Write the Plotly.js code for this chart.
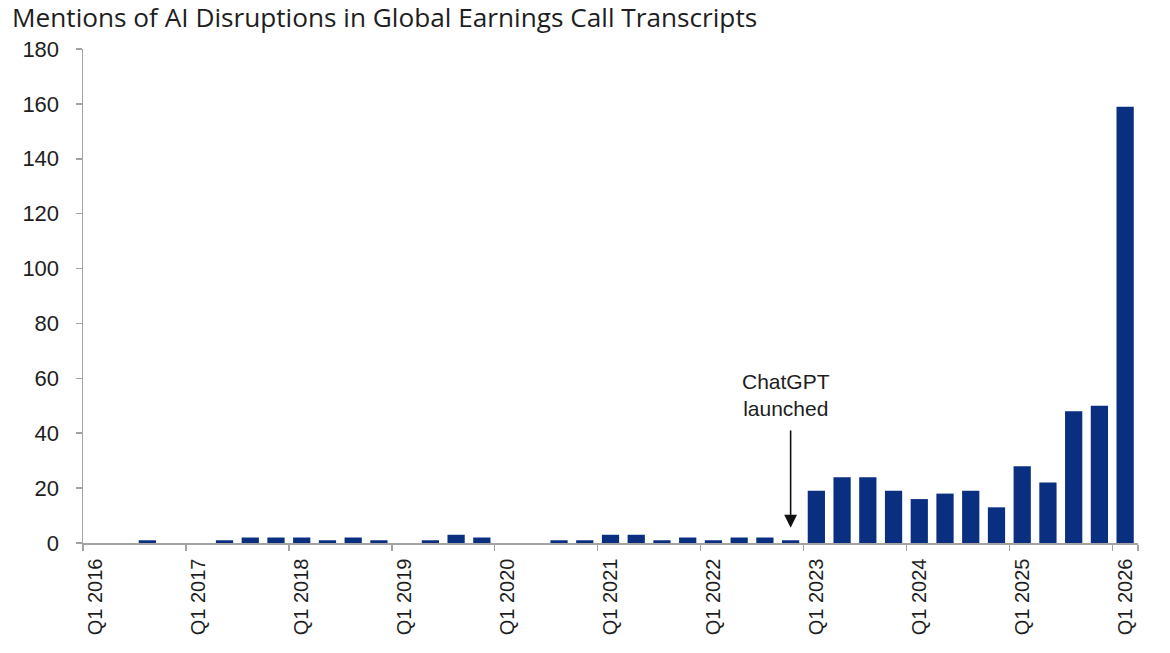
<!DOCTYPE html>
<html>
<head>
<meta charset="utf-8">
<script src="https://cdn.plot.ly/plotly-3.0.1.min.js"></script>
<style>
  html, body { margin: 0; padding: 0; background: #fff; }
  #chart { width: 1170px; height: 653px; }
</style>
</head>
<body>
<div id="chart"></div>
<script>
// Quarterly categories, Q1 2016 through Q1 2026
const years = [2016, 2017, 2018, 2019, 2020, 2021, 2022, 2023, 2024, 2025, 2026];
const quarters = [];
years.forEach(y => {
  for (let q = 1; q <= 4; q++) {
    if (y === 2026 && q > 1) break;
    quarters.push('Q' + q + ' ' + y);
  }
});

// Count of AI-disruption mentions per quarter
const mentions = [
  0, 0, 1, 0,     // 2016
  0, 1, 2, 2,     // 2017
  2, 1, 2, 1,     // 2018
  0, 1, 3, 2,     // 2019
  0, 0, 1, 1,     // 2020
  3, 3, 1, 2,     // 2021
  1, 2, 2, 1,     // 2022
  19, 24, 24, 19, // 2023
  16, 18, 19, 13, // 2024
  28, 22, 48, 50, // 2025
  159             // 2026
];

// Axis labels shown on the first quarter of each year
const tickLabels = years.map(y => 'Q1 ' + y);
const yTicks = [0, 20, 40, 60, 80, 100, 120, 140, 160, 180];

const launchQuarter = 'Q4 2022';
const launchText = 'ChatGPT<br>launched';

const barColor = '#0a2e80';
const axisGrey = '#a3a3a3';
const labelFont = 'Liberation Sans, Arial, Helvetica, sans-serif';

const trace = {
  type: 'bar',
  x: quarters,
  y: mentions,
  marker: { color: barColor, line: { width: 0 } },
  hoverinfo: 'x+y'
};

const layout = {
  width: 1170,
  height: 653,
  paper_bgcolor: '#ffffff',
  plot_bgcolor: '#ffffff',
  margin: { l: 83, r: 32, t: 49, b: 110 },
  bargap: 0.33,
  showlegend: false,
  title: {
    text: 'Mentions of AI Disruptions in Global Earnings Call Transcripts',
    x: 12 / 1170, xref: 'container', xanchor: 'left',
    y: 1 - 18 / 653, yref: 'container', yanchor: 'middle',
    font: { family: 'Open Sans, sans-serif', size: 26.2, color: '#1e1e1e' }
  },
  xaxis: {
    type: 'category',
    categoryorder: 'array',
    categoryarray: quarters,
    range: [-0.5, quarters.length - 0.5],
    tickvals: tickLabels,
    ticktext: tickLabels,
    tickangle: -90,
    tickson: 'boundaries',
    ticks: 'outside',
    ticklen: 6,
    tickwidth: 1.5,
    tickcolor: axisGrey,
    showline: true,
    linecolor: axisGrey,
    linewidth: 1.5,
    showgrid: false,
    zeroline: false,
    ticklabelstandoff: 6,
    tickfont: { family: labelFont, size: 20, color: '#1e1e1e' },
    fixedrange: true
  },
  yaxis: {
    range: [0, 180],
    tickvals: yTicks,
    ticks: 'outside',
    ticklen: 6,
    tickwidth: 1.5,
    tickcolor: axisGrey,
    showline: true,
    linecolor: axisGrey,
    linewidth: 1.5,
    showgrid: false,
    zeroline: false,
    ticklabelstandoff: 12,
    tickfont: { family: labelFont, size: 22, color: '#1e1e1e' },
    fixedrange: true
  },
  annotations: [
    {
      x: launchQuarter, xref: 'x',
      y: 5.6, yref: 'y',
      ax: launchQuarter, axref: 'x',
      ay: 41.5, ayref: 'y',
      text: '',
      showarrow: true,
      arrowhead: 2,
      arrowsize: 1.6,
      arrowwidth: 1.6,
      arrowcolor: '#111111'
    },
    {
      x: launchQuarter, xref: 'x',
      y: 53.8, yref: 'y',
      xshift: -5,
      text: launchText,
      showarrow: false,
      align: 'center',
      xanchor: 'center', yanchor: 'middle',
      font: { family: labelFont, size: 21, color: '#1e1e1e' }
    }
  ]
};

Plotly.newPlot('chart', [trace], layout, { displayModeBar: false, staticPlot: true });
</script>
</body>
</html>
